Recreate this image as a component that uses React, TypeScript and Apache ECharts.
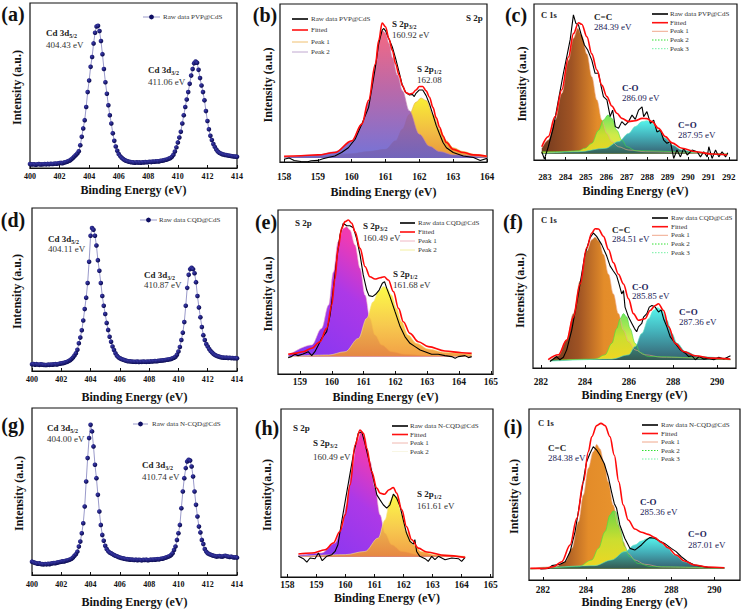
import React, { useEffect, useRef } from "react";
import * as echarts from "echarts";

// ---------------- data (intensities in % of the plot height) ----------------
// Cd 3d survey panels: binding energy sampled every 0.1 eV from 400 to 414 eV
const cdStart = 400;
const cdStep = 0.1;
const cdPVP = [
  2.4, 2.1, 2.3, 2.2, 2.0, 2.3, 2.4, 2.1, 2.2, 2.3,
  2.4, 2.2, 2.5, 2.3, 2.6, 2.4, 2.5, 2.7, 2.6, 2.8,
  3.0, 3.1, 2.9, 3.3, 3.5, 3.8, 4.2, 4.6, 5.3, 6.1,
  7.0, 7.9, 8.8, 10.1, 13.8, 18.9, 24.0, 29.0, 37.0, 46.0,
  53.0, 61.3, 67.3, 75.5, 82.0, 85.8, 86.2, 83.0, 77.0, 69.0,
  60.0, 52.0, 45.0, 38.0, 32.0, 27.0, 21.0, 16.5, 13.0, 10.5,
  8.5, 7.2, 6.2, 5.4, 4.8, 4.4, 4.1, 3.8, 3.6, 3.5,
  3.4, 3.2, 3.5, 3.3, 3.4, 3.2, 3.5, 3.4, 3.6, 3.5,
  3.6, 3.8, 3.6, 3.9, 3.8, 4.0, 4.1, 4.0, 4.3, 4.4,
  4.6, 4.8, 5.0, 5.3, 5.7, 6.0, 6.8, 8.0, 10.0, 12.5,
  15.5, 18.5, 22.0, 27.0, 32.0, 37.0, 41.5, 46.0, 51.0, 56.0,
  60.0, 63.5, 64.5, 63.8, 59.5, 54.5, 50.0, 46.0, 41.0, 34.5,
  28.5, 23.5, 19.5, 17.0, 14.5, 12.8, 11.2, 10.0, 9.3, 8.8,
  8.4, 8.2, 7.9, 7.8, 7.6, 7.4, 7.3, 7.1, 7.0, 6.9,
  6.8,
];
const cdCQD = [
  4.1, 4.3, 3.9, 4.2, 4.0, 3.8, 4.1, 3.9, 3.8, 3.7,
  3.7, 3.9, 3.8, 4.0, 3.9, 4.1, 4.2, 4.0, 4.3, 4.5,
  4.7, 4.8, 5.0, 5.3, 5.6, 6.1, 6.6, 7.4, 8.3, 9.5,
  10.9, 13.0, 17.0, 20.5, 25.0, 31.0, 38.0, 45.0, 54.0, 67.0,
  83.0, 87.7, 86.7, 83.0, 77.0, 68.0, 61.5, 54.0, 46.0, 40.0,
  35.0, 29.5, 25.2, 21.0, 18.0, 15.0, 12.9, 10.9, 9.4, 8.5,
  7.8, 7.4, 7.0, 6.7, 6.4, 6.1, 6.0, 5.9, 5.8, 5.7,
  5.7, 5.6, 5.8, 5.5, 5.7, 5.6, 5.8, 5.7, 5.6, 5.8,
  5.7, 5.9, 5.8, 6.0, 6.1, 6.0, 6.2, 6.3, 6.4, 6.5,
  6.6, 6.7, 6.9, 7.0, 7.2, 7.4, 7.8, 8.2, 8.8, 10.0,
  11.9, 14.7, 19.0, 23.5, 30.0, 40.0, 51.0, 59.0, 62.5, 63.3,
  62.5, 60.0, 54.5, 46.0, 39.0, 33.0, 27.0, 22.0, 19.0, 16.5,
  15.0, 13.5, 12.2, 11.3, 10.5, 9.8, 9.3, 9.0, 8.7, 8.5,
  8.3, 8.2, 8.1, 8.2, 8.0, 8.1, 7.9, 8.0, 7.8, 7.9,
  7.8,
];
const cdNCQD = [
  8.0, 7.6, 7.3, 7.0, 6.8, 7.0, 6.6, 6.5, 6.4, 6.6,
  6.4, 6.7, 6.5, 6.9, 7.0, 7.2, 7.1, 7.4, 7.6, 7.8,
  8.0, 8.2, 8.1, 8.5, 8.7, 9.0, 9.3, 9.8, 10.5, 11.5,
  12.5, 14.0, 17.0, 20.0, 25.0, 31.0, 41.0, 56.0, 70.0, 82.0,
  90.0, 86.0, 77.0, 66.0, 58.0, 48.0, 38.0, 30.0, 24.0, 20.5,
  17.5, 15.5, 14.3, 13.5, 13.0, 12.5, 12.0, 11.5, 11.2, 10.8,
  10.5, 10.2, 10.0, 9.8, 9.6, 9.5, 9.4, 9.2, 9.3, 9.1,
  9.0, 9.2, 8.9, 9.1, 9.0, 8.8, 9.1, 9.0, 9.2, 8.9,
  9.0, 9.2, 9.1, 9.3, 9.2, 9.4, 9.5, 9.4, 9.7, 9.8,
  10.0, 10.3, 10.6, 11.0, 11.3, 12.0, 13.0, 15.0, 17.0, 21.0,
  25.0, 30.0, 40.0, 50.0, 58.0, 64.0, 68.0, 69.0, 68.5, 65.0,
  59.0, 50.0, 42.0, 35.0, 29.0, 25.5, 21.0, 18.5, 15.5, 14.0,
  13.0, 12.5, 12.2, 11.8, 11.5, 11.3, 11.0, 11.2, 11.4, 11.1,
  11.0, 11.3, 11.5, 11.2, 11.0, 10.8, 11.0, 10.7, 10.5, 10.6,
  10.4,
];

type Pt = [number, number];

// (b) S 2p, PVP@CdS
const bRaw: Pt[] = [[158.0,1.7],[158.15,2.5],[158.3,1.0],[158.5,0.3],[158.7,0.2],[158.8,0.8],[159.0,1.0],[159.15,2.0],[159.3,2.8],[159.5,3.8],[159.7,6.0],[159.9,9.0],[160.1,14.4],[160.3,24.0],[160.5,34.6],[160.6,47.0],[160.7,60.0],[160.8,75.0],[160.9,83.4],[160.95,84.5],[161.0,83.0],[161.1,78.0],[161.2,72.8],[161.3,65.4],[161.4,57.0],[161.5,48.4],[161.6,44.0],[161.7,42.5],[161.8,42.7],[161.85,41.4],[161.9,43.5],[162.0,45.6],[162.1,45.6],[162.2,42.0],[162.3,36.7],[162.4,30.0],[162.5,23.0],[162.6,17.6],[162.7,12.3],[162.8,9.0],[163.0,6.0],[163.3,3.8],[163.6,2.8],[163.8,1.0],[164.0,2.3]];
const bFit: Pt[] = [[158.0,3.6],[158.5,4.0],[159.0,4.5],[159.5,6.0],[160.0,13.4],[160.3,24.0],[160.5,39.0],[160.7,62.0],[160.8,77.0],[160.9,88.0],[161.0,85.6],[161.1,78.0],[161.2,70.7],[161.3,62.0],[161.4,55.0],[161.5,48.4],[161.6,44.0],[161.7,43.0],[161.8,43.5],[161.9,45.6],[162.0,47.8],[162.1,47.8],[162.2,45.0],[162.3,41.0],[162.4,34.6],[162.5,28.0],[162.6,22.0],[162.7,16.5],[162.8,12.3],[163.0,8.0],[163.3,6.0],[163.6,4.5],[164.0,3.6]];
const bPeak1: Pt[] = [[158.0,2.8],[159.0,4.5],[159.5,6.5],[160.0,13.0],[160.3,24.0],[160.5,38.0],[160.7,61.0],[160.8,75.0],[160.9,83.4],[161.0,81.5],[161.1,75.0],[161.2,66.0],[161.35,55.0],[161.5,45.0],[161.7,32.5],[162.0,17.6],[162.3,10.0],[162.6,6.6],[163.0,4.5],[164.0,2.8]];
const bPeak2: Pt[] = [[158.0,2.8],[159.0,3.6],[160.0,5.3],[160.5,6.6],[161.0,8.0],[161.3,13.4],[161.5,20.8],[161.7,30.0],[161.9,37.8],[162.05,40.5],[162.2,38.9],[162.4,30.0],[162.6,20.8],[162.8,13.4],[163.0,9.0],[163.3,6.6],[163.6,4.9],[164.0,3.8]];

// (c) C 1s, PVP@CdS
const cRaw: Pt[] = [[282.84,5.3],[282.97,0.6],[283.16,8.5],[283.41,21],[283.65,38],[283.9,55.6],[284.06,66],[284.23,77],[284.39,93],[284.51,87.6],[284.64,86.5],[284.8,79],[284.93,73.7],[285.09,70.5],[285.29,64],[285.45,55.6],[285.62,55.6],[285.75,47],[285.86,40.6],[286.03,38.5],[286.19,27.8],[286.31,32],[286.44,21.4],[286.6,20.3],[286.76,24.6],[286.93,22.4],[287.09,24.6],[287.26,28.8],[287.42,26],[287.58,32],[287.75,34],[287.83,27.8],[287.99,31],[288.16,23.5],[288.32,25.6],[288.48,18],[288.65,19],[288.81,12.8],[288.97,10.7],[289.14,11.8],[289.3,1],[289.46,6.4],[289.63,2],[289.79,7.5],[289.96,3.2],[290.2,6.4],[290.45,5.3],[290.61,2],[290.77,5.3],[290.94,2],[291.02,8.5],[291.18,1],[291.35,6.4],[291.51,2],[291.67,5.3],[291.84,2],[291.95,4.7]];
const cFit: Pt[] = [[282.84,8.5],[283.16,15],[283.49,27.8],[283.82,45],[284.15,66],[284.39,81],[284.64,88],[284.8,87],[285.05,79],[285.29,68],[285.54,57.7],[285.78,48],[286.03,40.6],[286.27,34.6],[286.52,30],[286.76,26.7],[287.09,24.6],[287.42,25.2],[287.75,26.7],[287.99,26.5],[288.24,24.6],[288.56,20.3],[288.89,15],[289.22,11],[289.71,7.5],[290.36,5.3],[291.18,3.8],[291.92,3.2]];
const cPeak1: Pt[] = [[282.84,7.5],[283.16,12.8],[283.49,25.6],[283.82,42.7],[284.15,64],[284.39,78],[284.6,84.4],[284.8,80],[285.05,68],[285.29,53.4],[285.54,38.5],[285.78,25.6],[286.03,17],[286.27,11.8],[286.6,8.5],[287.09,6.4],[287.91,5.3],[291.92,3.2]];
const cPeak2: Pt[] = [[282.84,5.3],[283.82,5.3],[284.64,6],[284.96,7.5],[285.29,10.7],[285.62,19],[285.86,25.6],[286.08,28.8],[286.27,26.7],[286.52,19],[286.76,12.8],[287.01,8.5],[287.42,6],[291.92,3.5]];
const cPeak3: Pt[] = [[282.84,4.3],[284.64,5.3],[285.95,7.5],[286.6,11.8],[287.09,17],[287.42,21.4],[287.75,24.6],[287.99,25.2],[288.24,23.5],[288.56,19],[288.89,13.9],[289.22,9.6],[289.71,6.4],[290.36,4.7],[291.92,3.2]];

// (e) S 2p, CQD@CdS
const eRaw: Pt[] = [[158.63,10.0],[158.73,10.6],[158.84,12.0],[158.94,11.2],[159.1,12.2],[159.26,13.6],[159.37,11.2],[159.47,13.6],[159.58,17.7],[159.68,21.7],[159.84,25.8],[159.95,36.0],[160.05,52.0],[160.16,70.5],[160.26,84.8],[160.36,91.9],[160.47,90.4],[160.57,90.4],[160.68,89.2],[160.78,82.7],[160.89,72.6],[160.99,60.4],[161.1,51.2],[161.17,47.8],[161.28,47.2],[161.38,48.6],[161.49,51.2],[161.59,55.3],[161.66,56.3],[161.73,52.2],[161.83,47.2],[161.99,38.0],[162.15,28.9],[162.3,22.8],[162.46,18.7],[162.62,16.7],[162.78,14.6],[162.93,13.6],[163.14,12.0],[163.35,12.0],[163.56,11.2],[163.77,10.6],[163.88,9.6],[163.98,10.6],[164.19,11.2],[164.3,10.0],[164.4,10.6]];
const eFit: Pt[] = [[158.63,12.0],[158.84,12.6],[159.1,13.6],[159.37,15.7],[159.63,19.7],[159.84,27.8],[160.0,42.0],[160.1,58.0],[160.2,76.6],[160.31,88.8],[160.42,92.9],[160.52,93.9],[160.63,91.9],[160.73,86.8],[160.89,76.6],[161.05,65.4],[161.2,59.3],[161.36,57.9],[161.52,58.7],[161.65,59.3],[161.78,57.3],[161.94,50.2],[162.1,40.0],[162.25,31.9],[162.46,24.8],[162.72,19.7],[163.04,16.7],[163.56,14.0],[164.09,13.0],[164.4,12.6]];
const ePeak1: Pt[] = [[158.63,11.2],[159.37,17.7],[159.68,27.8],[159.9,42.0],[160.05,62.0],[160.2,80.7],[160.36,88.8],[160.47,89.8],[160.57,87.8],[160.73,78.7],[160.89,64.4],[161.05,48.0],[161.2,34.0],[161.36,23.8],[161.57,17.7],[161.88,13.6],[162.3,12.0],[163.04,11.2],[164.4,10.6]];
const ePeak2: Pt[] = [[158.63,10.6],[159.9,11.6],[160.42,13.6],[160.84,21.7],[161.1,34.0],[161.3,44.0],[161.47,50.2],[161.62,53.3],[161.73,52.6],[161.88,48.2],[162.04,40.0],[162.2,31.9],[162.4,23.8],[162.67,18.7],[163.04,15.2],[163.56,13.2],[164.4,12.0]];

// (f) C 1s, CQD@CdS
const fRaw: Pt[] = [[282.41,4.1],[282.56,5.6],[282.71,7.2],[282.86,5.2],[283.02,6.8],[283.17,11.4],[283.4,23.8],[283.7,46.6],[284.0,71.4],[284.23,81.8],[284.38,84.9],[284.53,82.8],[284.76,77.6],[284.99,70.4],[285.14,64.2],[285.29,61.0],[285.44,58.0],[285.55,52.8],[285.67,46.6],[285.75,48.7],[285.82,38.3],[285.98,32.0],[286.13,28.0],[286.25,24.8],[286.35,22.8],[286.43,25.9],[286.58,28.0],[286.66,32.0],[286.81,34.2],[286.92,38.3],[287.04,39.3],[287.19,38.3],[287.34,35.2],[287.46,36.6],[287.57,31.0],[287.72,25.9],[287.87,19.7],[288.1,15.5],[288.33,11.4],[288.56,9.3],[288.71,7.2],[288.86,7.7],[289.01,5.2],[289.19,7.2],[289.39,5.6],[289.62,6.2],[289.85,5.2],[290.08,6.8],[290.31,5.6],[290.61,7.7]];
const fFit: Pt[] = [[282.33,5.2],[282.79,8.3],[283.17,17.6],[283.47,32.0],[283.78,52.8],[284.08,75.6],[284.31,84.9],[284.46,87.6],[284.61,87.4],[284.84,82.8],[285.07,74.5],[285.29,66.3],[285.52,59.0],[285.75,52.8],[285.98,43.5],[286.2,34.2],[286.43,30.0],[286.73,31.0],[286.96,36.2],[287.19,39.3],[287.34,40.4],[287.57,36.2],[287.8,25.9],[288.1,15.5],[288.48,10.4],[289.01,7.7],[289.77,6.2],[290.6,5.6]];
const fPeak1: Pt[] = [[282.41,4.8],[282.79,7.7],[283.17,17.6],[283.47,34.2],[283.78,54.9],[284.08,73.5],[284.31,80.7],[284.46,82.2],[284.64,79.7],[284.84,71.4],[285.07,59.0],[285.29,46.6],[285.52,34.2],[285.75,23.8],[285.98,16.6],[286.28,11.4],[286.73,8.3],[287.49,6.8],[290.61,5.2]];
const fPeak2: Pt[] = [[282.41,4.8],[284.46,5.6],[284.91,8.3],[285.22,15.5],[285.44,24.8],[285.6,31.0],[285.75,34.2],[285.9,32.0],[286.05,24.8],[286.28,15.5],[286.51,9.7],[286.89,7.2],[290.61,5.2]];
const fPeak3: Pt[] = [[282.41,4.3],[285.22,5.6],[285.98,8.3],[286.28,13.5],[286.58,21.7],[286.89,31.0],[287.11,36.2],[287.31,37.9],[287.49,36.2],[287.72,30.0],[287.95,21.7],[288.18,15.5],[288.56,10.4],[289.16,7.2],[290.61,5.6]];

// (h) S 2p, N-CQD@CdS
const hRaw: Pt[] = [[158.38,12.3],[158.55,10.9],[158.67,8.9],[158.78,11.3],[158.95,10.9],[159.07,14.3],[159.2,9.7],[159.35,12.3],[159.53,13.3],[159.64,15.2],[159.74,19.2],[159.85,31.1],[159.99,45.0],[160.13,58.8],[160.27,72.7],[160.44,85.5],[160.56,86.5],[160.67,79.6],[160.79,70.7],[160.93,60.8],[161.08,48.9],[161.19,45.9],[161.3,43.0],[161.42,41.0],[161.53,43.0],[161.65,49.3],[161.76,47.0],[161.88,42.0],[161.99,34.0],[162.1,26.1],[162.22,21.2],[162.34,19.6],[162.39,22.2],[162.45,15.2],[162.56,12.3],[162.74,10.9],[162.85,9.3],[162.97,12.3],[163.08,10.3],[163.2,12.3],[163.43,10.3],[163.66,11.3],[163.89,10.9],[164.0,9.3],[164.12,11.7]];
const hFit: Pt[] = [[158.38,13.7],[158.84,14.3],[159.3,16.2],[159.58,20.2],[159.81,27.1],[159.99,37.0],[160.16,54.9],[160.33,78.6],[160.5,87.5],[160.62,85.5],[160.73,76.6],[160.9,62.8],[161.08,52.9],[161.19,49.9],[161.34,49.3],[161.5,51.9],[161.65,53.3],[161.76,49.9],[161.94,40.0],[162.1,30.1],[162.28,22.2],[162.51,17.2],[162.8,14.9],[163.43,12.9],[164.12,11.7]];
const hPeak1: Pt[] = [[158.38,12.9],[159.18,14.3],[159.64,20.2],[159.87,29.1],[160.04,43.0],[160.21,62.8],[160.39,80.6],[160.54,86.5],[160.67,82.6],[160.85,68.7],[161.02,52.9],[161.19,37.0],[161.36,26.1],[161.59,19.2],[161.94,15.2],[162.51,13.3],[164.12,11.7]];
const hPeak2: Pt[] = [[158.38,12.3],[159.99,13.3],[160.67,15.2],[161.13,23.2],[161.36,34.0],[161.53,45.0],[161.65,49.3],[161.76,47.9],[161.94,37.0],[162.1,27.1],[162.34,19.2],[162.62,15.2],[163.08,13.3],[164.12,12.3]];

// (i) C 1s, N-CQD@CdS
const iRaw: Pt[] = [[281.88,6.4],[282.27,6.8],[282.42,8.4],[282.57,8.8],[282.8,9.2],[283.04,10.7],[283.27,16.6],[283.5,28.3],[283.73,45.8],[283.93,61.4],[284.04,69.2],[284.2,74.1],[284.35,78.0],[284.51,76.0],[284.66,73.1],[284.86,68.2],[285.05,60.4],[285.2,51.7],[285.33,44.8],[285.44,41.9],[285.59,32.2],[285.82,24.4],[286.06,18.5],[286.29,17.5],[286.6,20.5],[286.83,23.4],[286.98,24.8],[287.21,24.4],[287.45,22.8],[287.68,21.4],[287.99,18.5],[288.22,16.6],[288.46,13.6],[288.76,10.7],[289.07,8.8],[289.69,7.4],[290.47,7.2]];
const iFit: Pt[] = [[281.41,6.8],[282.11,6.8],[282.5,7.8],[282.88,10.7],[283.27,20.5],[283.58,36.0],[283.89,57.5],[284.12,75.0],[284.28,83.8],[284.51,90.3],[284.71,91.6],[284.9,90.3],[285.13,83.8],[285.33,73.1],[285.54,57.5],[285.75,43.9],[285.98,35.1],[286.29,29.8],[286.6,27.9],[286.91,26.7],[287.22,24.8],[287.53,22.0],[287.84,18.9],[288.22,14.6],[288.61,11.1],[289.07,8.8],[289.69,7.6],[290.47,7.2]];
const iPeak1: Pt[] = [[281.41,6.8],[282.57,7.8],[283.04,10.7],[283.35,18.5],[283.66,34.1],[283.89,49.7],[284.12,65.3],[284.35,75.0],[284.51,79.3],[284.66,76.8],[284.86,68.2],[285.05,57.5],[285.28,43.9],[285.51,32.2],[285.75,22.4],[285.98,15.6],[286.29,11.7],[286.75,9.2],[287.53,7.6],[290.47,6.8]];
const iPeak2: Pt[] = [[281.41,6.4],[283.66,7.8],[284.28,11.7],[284.59,18.5],[284.9,28.3],[285.13,38.0],[285.28,40.4],[285.39,40.0],[285.59,30.2],[285.82,19.5],[286.06,13.6],[286.44,9.7],[287.06,7.8],[290.47,6.8]];
const iPeak3: Pt[] = [[281.41,6.4],[284.43,8.4],[285.2,11.7],[285.82,16.6],[286.29,20.5],[286.6,22.8],[286.91,24.4],[287.06,24.8],[287.37,23.4],[287.76,19.5],[288.15,14.6],[288.61,10.7],[289.07,8.8],[289.69,7.4],[290.47,6.8]];

// tick labels
const ticksCd = [400, 402, 404, 406, 408, 410, 412, 414];
const ticksB = [158, 159, 160, 161, 162, 163, 164];
const ticksC = [283, 284, 285, 286, 287, 288, 289, 290, 291, 292];
const ticksE = [159, 160, 161, 162, 163, 164, 165];
const ticksF = [282, 284, 286, 288, 290];
const ticksH = [158, 159, 160, 161, 162, 163, 164, 165];
const ticksI = [282, 284, 286, 288, 290];

// ---------------- layout & styling ----------------
const SERIF = "Liberation Serif";

type PanelGeo = {
  l: number; t: number; r: number; b: number;
  min: number; max: number; ticks: number[];
  tickFont: number; margin: number; xTitleY: number; yTitleX: number;
  yTitle: string;
};

const geo: PanelGeo[] = [
  { l: 30, t: 3, r: 237, b: 168, min: 400, max: 414, ticks: ticksCd, tickFont: 8, margin: 4, xTitleY: 190, yTitleX: 17, yTitle: "Intensity (a.u.)" },
  { l: 280, t: 4, r: 487, b: 162, min: 157.88, max: 164, ticks: ticksB, tickFont: 9.5, margin: 10, xTitleY: 192, yTitleX: 268, yTitle: "Intensity (a.u.)" },
  { l: 534, t: 4, r: 737, b: 160, min: 282.46, max: 292.4, ticks: ticksC, tickFont: 9, margin: 12, xTitleY: 191, yTitleX: 522, yTitle: "Intensity (a.u.)" },
  { l: 32, t: 208, r: 237, b: 371, min: 400, max: 414, ticks: ticksCd, tickFont: 8, margin: 4, xTitleY: 397, yTitleX: 17, yTitle: "Intensity (a.u.)" },
  { l: 278, t: 210, r: 493, b: 374, min: 158.31, max: 165.07, ticks: ticksE, tickFont: 9.5, margin: 3, xTitleY: 397, yTitleX: 268, yTitle: "Intensity (a.u.)" },
  { l: 533, t: 209, r: 736, b: 368, min: 281.64, max: 290.86, ticks: ticksF, tickFont: 9.5, margin: 9, xTitleY: 395, yTitleX: 520, yTitle: "Intensity (a.u.)" },
  { l: 32, t: 408, r: 237, b: 575, min: 400, max: 414, ticks: ticksCd, tickFont: 8, margin: 5, xTitleY: 602, yTitleX: 19, yTitle: "Intensity (a.u.)" },
  { l: 281, t: 409, r: 493, b: 577, min: 157.78, max: 165.08, ticks: ticksH, tickFont: 9.5, margin: 3, xTitleY: 598, yTitleX: 267, yTitle: "Intesnity(a.u.)" },
  { l: 529, t: 409, r: 740, b: 580, min: 281.35, max: 291.2, ticks: ticksI, tickFont: 9.5, margin: 5, xTitleY: 602, yTitleX: 514, yTitle: "Intensity (a.u.)" },
];

const panelLetters = [
  { t: "(a)", x: 13, y: 14 }, { t: "(b)", x: 265, y: 15 }, { t: "(c)", x: 516, y: 15 },
  { t: "(d)", x: 13, y: 220 }, { t: "(e)", x: 266, y: 222 }, { t: "(f)", x: 513, y: 222 },
  { t: "(g)", x: 13, y: 425 }, { t: "(h)", x: 267, y: 428 }, { t: "(i)", x: 513, y: 427 },
];

function grad(x2: number, y2: number, x: number, y: number, stops: [number, string][]) {
  return new echarts.graphic.LinearGradient(x, y, x2, y2, stops.map(([offset, color]) => ({ offset, color })));
}

function cdPairs(vals: number[]): Pt[] {
  return vals.map((v, k) => [Number((cdStart + k * cdStep).toFixed(1)), v]);
}

function text(x: number, y: number, t: string, size: number, bold: boolean, color: string, align = "left", extra: any = {}) {
  return {
    type: "text", x, y, silent: true, z: 100,
    style: { text: t, fontSize: size, fontWeight: bold ? "bold" : "normal", fontFamily: SERIF, fill: color, align, verticalAlign: "middle", ...extra },
  };
}

function subText(x: number, yc: number, main: string, sub: string, color: string) {
  return {
    type: "text", x, y: yc - 5, silent: true, z: 100,
    style: {
      text: `{m|${main}}{s|${sub}}`, align: "left", verticalAlign: "top",
      rich: {
        m: { fontSize: 9, fontWeight: "bold", fontFamily: SERIF, fill: color, color, lineHeight: 10, verticalAlign: "top" },
        s: { fontSize: 6, fontWeight: "bold", fontFamily: SERIF, fill: color, color, lineHeight: 16, verticalAlign: "middle" },
      },
    },
  };
}

type LegItem = { label: string; color: string; width: number; dash?: number[] };
function legend(x1: number, x2: number, tx: number, ys: number[], items: LegItem[]) {
  const out: any[] = [];
  items.forEach((it, k) => {
    out.push({ type: "line", silent: true, z: 100, shape: { x1, y1: ys[k], x2, y2: ys[k] }, style: { stroke: it.color, lineWidth: it.width, lineDash: it.dash } });
    out.push(text(tx, ys[k], it.label, 7, false, "#333"));
  });
  return out;
}

const c1Items = (name: string): LegItem[] => [
  { label: `Raw data ${name}`, color: "#000", width: 1.6 },
  { label: "Fitted", color: "#ff1010", width: 1.6 },
  { label: "Peak 1", color: "#f0a88c", width: 1 },
  { label: "Peak 2", color: "#30e030", width: 1, dash: [1.5, 1.5] },
  { label: "Peak 3", color: "#70f0a0", width: 1, dash: [1.5, 1.5] },
];

function buildOption() {
  const grid = geo.map((g) => ({
    left: g.l, top: g.t, width: g.r - g.l, height: g.b - g.t,
    show: true, borderColor: "#111", borderWidth: 1.2, backgroundColor: "transparent",
  }));
  const xAxis = geo.map((g, i) => ({
    type: "value", gridIndex: i, min: g.min, max: g.max,
    axisLine: { show: true, lineStyle: { color: "#111", width: 1.2 } },
    axisTick: { show: true, inside: true, length: 3, customValues: g.ticks, lineStyle: { color: "#111", width: 1 } },
    axisLabel: {
      show: true, customValues: g.ticks, margin: g.margin, fontSize: g.tickFont, fontWeight: "bold",
      fontFamily: SERIF, color: "#111", formatter: (v: number) => String(v),
    },
    splitLine: { show: false },
  }));
  const yAxis = geo.map((_, i) => ({ type: "value", gridIndex: i, min: 0, max: 100, show: false }));

  const series: any[] = [];
  const raw = (i: number, data: Pt[]) => series.push({
    type: "line", xAxisIndex: i, yAxisIndex: i, data, symbol: "none", silent: true,
    lineStyle: { color: "#000", width: 1.1 }, z: 4,
  });
  const fit = (i: number, data: Pt[]) => series.push({
    type: "line", xAxisIndex: i, yAxisIndex: i, data, symbol: "none", silent: true,
    smooth: 0.35, smoothMonotone: "x", lineStyle: { color: "#ff0a0a", width: 1.6 }, z: 5,
  });
  const peak = (i: number, data: Pt[], fill: any, stroke: string, origin: number, opacity: number, z: number) => series.push({
    type: "line", xAxisIndex: i, yAxisIndex: i, data, symbol: "none", silent: true,
    smooth: 0.35, smoothMonotone: "x", lineStyle: { color: stroke, width: 0.6 },
    areaStyle: { color: fill, opacity, origin }, z,
  });
  const dots = (i: number, vals: number[]) => series.push({
    type: "line", xAxisIndex: i, yAxisIndex: i, data: cdPairs(vals), silent: true,
    symbol: "circle", symbolSize: 4.6, showSymbol: true,
    itemStyle: { color: new echarts.graphic.RadialGradient(0.35, 0.35, 0.7, [{ offset: 0, color: "#3c3cae" }, { offset: 1, color: "#06064a" }]), borderWidth: 0 },
    lineStyle: { color: "#8080bc", width: 0.8 }, z: 3,
  });

  // gradients
  const pinkPurple = () => grad(0, 1, 0, 0, [[0, "#f4506e"], [0.45, "#b0509a"], [1, "#5e5cd0"]]);
  const yellowOrange = () => grad(0, 1, 0, 0, [[0, "#f8ee2a"], [0.6, "#f0b43a"], [1, "#e8922e"]]);
  const violetMagenta = () => grad(1, 0, 0, 1, [[0, "#7a2cf2"], [0.4, "#a82ee6"], [0.62, "#ee30b0"], [1, "#ff3a8a"]]);
  const yellowOrange2 = () => grad(0, 1, 0, 0, [[0, "#fcfa2e"], [0.55, "#f6c236"], [1, "#f0922c"]]);
  const brownOrange = () => grad(1, 0, 0, 0, [[0, "#6a2e12"], [0.16, "#9a4a18"], [0.3, "#e2861e"], [1, "#f8a832"]]);
  const greenYellow = () => grad(0, 1, 0, 0, [[0, "#5ee048"], [0.5, "#c8e830"], [1, "#f2e020"]]);
  const cyanTeal = () => grad(0, 1, 0, 0, [[0, "#3ef2ea"], [0.45, "#2aa6b0"], [1, "#1a4658"]]);

  // (a) (d) (g)
  dots(0, cdPVP);
  dots(3, cdCQD);
  dots(6, cdNCQD);

  // (b)
  peak(1, bPeak2, yellowOrange(), "#e8b040", 2.5, 0.95, 2);
  peak(1, bPeak1, pinkPurple(), "#c080b0", 2.5, 0.86, 3);
  raw(1, bRaw);
  fit(1, bFit);

  // (c)
  peak(2, cPeak1, brownOrange(), "#f0a88c", 4, 0.95, 2);
  peak(2, cPeak2, greenYellow(), "#40e040", 4, 0.88, 2);
  peak(2, cPeak3, cyanTeal(), "#60e8c0", 4, 0.88, 2);
  raw(2, cRaw);
  fit(2, cFit);

  // (e)
  peak(4, ePeak1, violetMagenta(), "#f0b0c8", 10.6, 0.95, 2);
  peak(4, ePeak2, yellowOrange2(), "#f4e890", 10.6, 0.88, 3);
  raw(4, eRaw);
  fit(4, eFit);

  // (f)
  peak(5, fPeak1, brownOrange(), "#f0a88c", 5, 0.95, 2);
  peak(5, fPeak2, greenYellow(), "#40e040", 5, 0.88, 2);
  peak(5, fPeak3, cyanTeal(), "#60e8c0", 5, 0.88, 2);
  raw(5, fRaw);
  fit(5, fFit);

  // (h)
  peak(7, hPeak1, violetMagenta(), "#f0b0c8", 12, 0.95, 2);
  peak(7, hPeak2, yellowOrange2(), "#f4e890", 12, 0.88, 3);
  raw(7, hRaw);
  fit(7, hFit);

  // (i)
  peak(8, iPeak1, brownOrange(), "#f0a88c", 6.6, 0.95, 2);
  peak(8, iPeak2, greenYellow(), "#40e040", 6.6, 0.88, 2);
  peak(8, iPeak3, cyanTeal(), "#60e8c0", 6.6, 0.88, 2);
  raw(8, iRaw);
  fit(8, iFit);

  // ---------- graphic texts ----------
  const g: any[] = [];
  panelLetters.forEach((p) => g.push(text(p.x, p.y, p.t, 20, true, "#111", "center")));
  geo.forEach((p) => {
    g.push(text((p.l + p.r) / 2, p.xTitleY, "Binding Energy (eV)", 12, true, "#111", "center"));
    g.push({ ...text(p.yTitleX, (p.t + p.b) / 2 + 2, p.yTitle, 12, true, "#111", "center"), rotation: Math.PI / 2 });
  });

  const grey = "#333";
  const navy = "#1c1c58";
  // (a)
  g.push(subText(46, 33, "Cd 3d", "5/2", "#222"), text(46, 45, "404.43 eV", 9, false, grey));
  g.push(subText(148, 70, "Cd 3d", "3/2", "#222"), text(148, 82, "411.06 eV", 9, false, grey));
  // (d)
  g.push(subText(48, 239, "Cd 3d", "5/2", "#222"), text(48, 249, "404.11 eV", 9, false, grey));
  g.push(subText(144, 275, "Cd 3d", "3/2", "#222"), text(144, 285, "410.87 eV", 9, false, grey));
  // (g)
  g.push(subText(47, 428, "Cd 3d", "5/2", "#222"), text(47, 439, "404.00 eV", 9, false, grey));
  g.push(subText(142, 465, "Cd 3d", "3/2", "#222"), text(142, 477, "410.74 eV", 9, false, grey));
  // Cd legends
  const cdLeg = (x1: number, x2: number, tx: number, y: number, label: string) => {
    g.push({ type: "line", silent: true, z: 100, shape: { x1, y1: y, x2, y2: y }, style: { stroke: "#8080bc", lineWidth: 0.8 } });
    g.push({ type: "circle", silent: true, z: 101, shape: { cx: (x1 + x2) / 2, cy: y, r: 2.4 }, style: { fill: "#0e0e62" } });
    g.push(text(tx, y, label, 7, false, grey));
  };
  cdLeg(143, 160, 163, 17, "Raw data PVP@CdS");
  cdLeg(140, 157, 159, 220, "Raw data CQD@CdS");
  cdLeg(133, 148, 152, 424, "Raw data N-CQD@CdS");

  // (b)
  g.push(subText(392, 24, "S 2p", "3/2", "#222"), text(392, 35, "160.92 eV", 9, false, grey));
  g.push(subText(417, 69, "S 2p", "1/2", "#222"), text(417, 80, "162.08", 9, false, grey));
  g.push(text(466, 18, "S 2p", 9, true, "#222"));
  g.push(...legend(292, 308, 311, [19, 30, 42, 52], [
    { label: "Raw data PVP@CdS", color: "#000", width: 1.6 },
    { label: "Fitted", color: "#ff1010", width: 1.6 },
    { label: "Peak 1", color: "#f0c070", width: 1 },
    { label: "Peak 2", color: "#c0a8d0", width: 1 },
  ]));
  // (c)
  g.push(text(541, 15, "C 1s", 8.5, true, "#222"));
  g.push(text(594, 17, "C=C", 9, true, "#222"), text(594, 27, "284.39 eV", 9, false, navy));
  g.push(text(622, 88, "C-O", 9, true, navy), text(622, 98, "286.09 eV", 9, false, navy));
  g.push(text(678, 125, "C=O", 9, true, navy), text(678, 135, "287.95 eV", 9, false, navy));
  g.push(...legend(652, 668, 670, [14, 22.7, 31.3, 40, 48.7], c1Items("PVP@CdS")));
  // (e)
  g.push(text(295, 223, "S 2p", 9, true, "#222"));
  g.push(subText(363, 226, "S 2p", "3/2", "#222"), text(363, 238, "160.49 eV", 9, false, grey));
  g.push(subText(393, 274, "S 2p", "1/2", "#222"), text(393, 285, "161.68 eV", 9, false, grey));
  g.push(...legend(400, 415, 418, [223, 232, 241, 250], [
    { label: "Raw data CQD@CdS", color: "#000", width: 1.6 },
    { label: "Fitted", color: "#ff1010", width: 1.6 },
    { label: "Peak 1", color: "#f0b8c4", width: 1 },
    { label: "Peak 2", color: "#f4f0a0", width: 1 },
  ]));
  // (f)
  g.push(text(541, 220, "C 1s", 8.5, true, "#222"));
  g.push(text(612, 230, "C=C", 9, true, "#222"), text(612, 239, "284.51 eV", 9, false, navy));
  g.push(text(632, 287, "C-O", 9, true, navy), text(632, 296, "285.85 eV", 9, false, navy));
  g.push(text(679, 312, "C=O", 9, true, navy), text(679, 322, "287.36 eV", 9, false, navy));
  g.push(...legend(652, 668, 671, [218, 226.7, 235.3, 244, 252.7], c1Items("CQD@CdS")));
  // (h)
  g.push(text(293, 428, "S 2p", 9, true, "#222"));
  g.push(subText(313, 443, "S 2p", "3/2", "#222"), text(313, 457, "160.49 eV", 9, false, grey));
  g.push(subText(417, 494, "S 2p", "1/2", "#222"), text(417, 506, "161.61 eV", 9, false, grey));
  g.push(...legend(392, 408, 410, [426, 434.5, 443, 451.5], [
    { label: "Raw data N-CQD@CdS", color: "#000", width: 1.6 },
    { label: "Fitted", color: "#ff1010", width: 1.6 },
    { label: "Peak 1", color: "#f0b8b0", width: 1 },
    { label: "Peak 2", color: "#f8f6e4", width: 1 },
  ]));
  // (i)
  g.push(text(538, 423, "C 1s", 8.5, true, "#222"));
  g.push(text(548, 448, "C=C", 9, true, "#222"), text(548, 458, "284.38 eV", 9, false, navy));
  g.push(text(640, 502, "C-O", 9, true, navy), text(640, 512, "285.36 eV", 9, false, navy));
  g.push(text(688, 534, "C=O", 9, true, navy), text(688, 545, "287.01 eV", 9, false, navy));
  g.push(...legend(642, 658, 661, [425, 433.5, 442, 450.5, 459], c1Items("N-CQD@CdS")));

  return {
    animation: false,
    backgroundColor: "#ffffff",
    grid, xAxis, yAxis, series,
    graphic: { elements: g },
  };
}

export default function App() {
  const ref = useRef<HTMLDivElement>(null);
  useEffect(() => {
    if (!ref.current) return;
    const chart = echarts.init(ref.current, undefined, { renderer: "svg" });
    chart.setOption(buildOption() as any);
    return () => chart.dispose();
  }, []);
  return (
    <div
      ref={ref}
      style={{ position: "absolute", left: 0, top: 0, width: 741, height: 611, background: "#fff" }}
    />
  );
}
